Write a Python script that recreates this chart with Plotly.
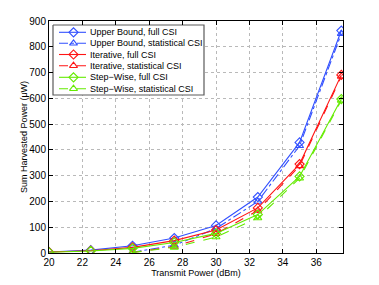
import plotly.graph_objects as go

x_full = [20, 22.5, 25, 27.5, 30, 32.5, 35, 37.5]
x_stat = [25, 27.5, 30, 32.5, 35, 37.5]

ub_full = [4, 11, 28, 58, 107, 217, 429, 863]
ub_stat = [3, 30, 95, 200, 416, 851]
it_full = [4, 9, 22, 48, 89, 175, 345, 691]
it_stat = [2, 25, 75, 165, 338, 685]
sw_full = [3, 8, 18, 41, 76, 149, 297, 597]
sw_stat = [2, 22, 62, 136, 290, 592]

names = ["Upper Bound, full CSI", "Upper Bound, statistical CSI",
         "Iterative, full CSI", "Iterative, statistical CSI",
         "Step\u2212Wise, full CSI", "Step\u2212Wise, statistical CSI"]

blue = "rgb(50,80,255)"
red = "rgb(255,20,20)"
green = "rgb(100,235,0)"
FONT = "Liberation Sans"

series = [
    (x_full, ub_full, names[0], blue, "solid", "diamond-open"),
    (x_stat, ub_stat, names[1], blue, "dashdot", "triangle-up-open"),
    (x_full, it_full, names[2], red, "solid", "diamond-open"),
    (x_stat, it_stat, names[3], red, "dash", "triangle-up-open"),
    (x_full, sw_full, names[4], green, "solid", "diamond-open"),
    (x_stat, sw_stat, names[5], green, "dash", "triangle-up-open"),
]

fig = go.Figure()
for xs, ys, nm, col, dash, sym in series:
    fig.add_trace(go.Scatter(x=xs, y=ys, name=nm, mode="lines+markers",
                             line=dict(color=col, width=1.1, dash=dash),
                             marker=dict(symbol=sym, size=7, color=col,
                                         line=dict(width=1.1, color=col)),
                             showlegend=False))

# Manual compact legend on an overlay pixel-like axis (x2: 0..294, y2: 0..232 top-down)
box_x = [4, 155, 155, 4, 4]
box_y = [4, 4, 74, 74, 4]
fig.add_trace(go.Scatter(x=box_x, y=box_y, xaxis="x2", yaxis="y2", mode="lines",
                         fill="toself", fillcolor="white",
                         line=dict(color="rgb(90,90,90)", width=1.2),
                         hoverinfo="skip", showlegend=False))
row_y = [11.3, 22.3, 33.5, 44.7, 56.3, 67.7]
for (xs, ys, nm, col, dash, sym), ry in zip(series, row_y):
    fig.add_trace(go.Scatter(x=[10, 37], y=[ry, ry], xaxis="x2", yaxis="y2",
                             mode="lines", line=dict(color=col, width=1.1, dash=dash),
                             hoverinfo="skip", showlegend=False))
    fig.add_trace(go.Scatter(x=[24.5], y=[ry], xaxis="x2", yaxis="y2",
                             mode="markers",
                             marker=dict(symbol=sym, size=7, color=col,
                                         line=dict(width=1.1, color=col)),
                             hoverinfo="skip", showlegend=False))
    fig.add_annotation(x=39, y=ry, xref="x2", yref="y2", text=nm,
                       showarrow=False, xanchor="left", yanchor="middle",
                       font=dict(size=9, family=FONT, color="black"))

axis_common = dict(showline=True, linecolor="black", linewidth=1, mirror="ticks",
                   ticks="inside", ticklen=4, tickcolor="black",
                   showgrid=True, gridcolor="rgb(185,185,185)", griddash="dot",
                   gridwidth=1, zeroline=False, automargin=False,
                   tickfont=dict(size=10, color="black", family=FONT))

fig.update_layout(
    width=379, height=285,
    margin=dict(l=49, r=36, t=21, b=32, autoexpand=False),
    paper_bgcolor="white", plot_bgcolor="white",
    font=dict(family=FONT, size=10, color="black"),
    xaxis=dict(range=[20, 37.6], tickvals=[20, 22, 24, 26, 28, 30, 32, 34, 36],
               title=dict(text="Transmit Power (dBm)", standoff=1,
                          font=dict(size=9)), **axis_common),
    yaxis=dict(range=[0, 900], tickvals=list(range(0, 901, 100)),
               title=dict(text="Sum Harvested Power (\u03bcW)", standoff=0,
                          font=dict(size=9)), **axis_common),
    xaxis2=dict(range=[0, 294], overlaying="x", anchor="y2", visible=False,
                fixedrange=True),
    yaxis2=dict(range=[232, 0], overlaying="y", anchor="x2", visible=False,
                fixedrange=True),
    showlegend=False,
)

fig.write_html("out.html",
               config={"displayModeBar": False},
               post_script="document.body.style.margin='0';"
                           "document.body.style.overflow='hidden';")
